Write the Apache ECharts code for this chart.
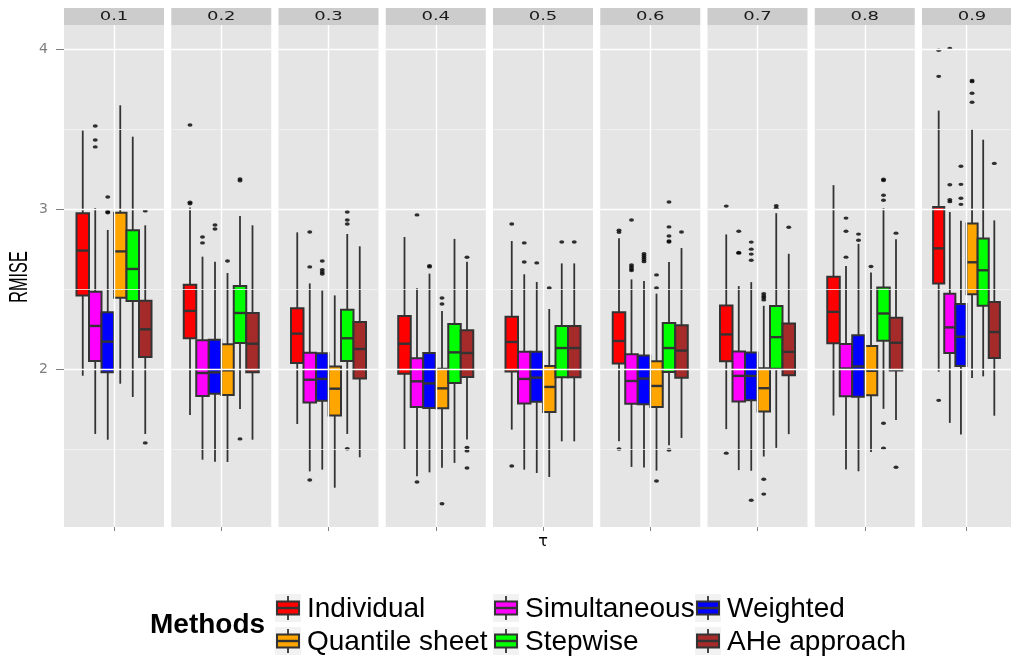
<!DOCTYPE html>
<html>
<head>
<meta charset="utf-8">
<script src="https://cdn.jsdelivr.net/npm/echarts@6/dist/echarts.min.js"></script>
<style>
  html, body { margin: 0; padding: 0; background: #ffffff; }
  #chart { width: 1011px; height: 658px; }
</style>
</head>
<body>
<div id="chart"></div>
<script>
// Facets (quantile level tau) and methods
const taus = ['0.1', '0.2', '0.3', '0.4', '0.5', '0.6', '0.7', '0.8', '0.9'];
const methods = ['Individual', 'Simultaneous', 'Weighted', 'Quantile sheet', 'Stepwise', 'AHe approach'];
const methodColors = ['#FF0000', '#FF00FF', '#0000FF', '#FFA500', '#00FF00', '#A52A2A'];
const yTickValues = [2, 3, 4];

// Five-number summaries per tau: [lower whisker, Q1, median, Q3, upper whisker]
const individual = [
  [1.958, 2.460, 2.740, 2.973, 3.490],
  [1.713, 2.192, 2.363, 2.527, 3.010],
  [1.656, 2.038, 2.221, 2.379, 2.854],
  [1.500, 1.971, 2.158, 2.331, 2.825],
  [1.621, 1.985, 2.169, 2.327, 2.800],
  [1.548, 2.035, 2.175, 2.354, 2.817],
  [1.624, 2.049, 2.216, 2.397, 2.841],
  [1.709, 2.161, 2.357, 2.576, 3.149],
  [1.983, 2.535, 2.754, 3.013, 3.615]
];
const simultaneous = [
  [1.594, 2.050, 2.269, 2.483, 3.006],
  [1.433, 1.831, 1.975, 2.179, 2.702],
  [1.360, 1.790, 1.933, 2.102, 2.535],
  [1.329, 1.763, 1.923, 2.067, 2.504],
  [1.371, 1.785, 1.938, 2.108, 2.592],
  [1.388, 1.783, 1.925, 2.092, 2.560],
  [1.368, 1.797, 1.957, 2.109, 2.518],
  [1.372, 1.830, 2.003, 2.157, 2.643],
  [1.663, 2.100, 2.260, 2.471, 2.981]
];
const weighted = [
  [1.558, 1.979, 2.171, 2.354, 2.869],
  [1.421, 1.846, 1.979, 2.183, 2.671],
  [1.371, 1.802, 1.938, 2.098, 2.490],
  [1.354, 1.756, 1.910, 2.100, 2.596],
  [1.350, 1.796, 1.946, 2.108, 2.544],
  [1.385, 1.779, 1.940, 2.085, 2.550],
  [1.364, 1.805, 1.957, 2.103, 2.543],
  [1.361, 1.826, 2.016, 2.211, 2.782],
  [1.590, 2.019, 2.202, 2.406, 2.927]
];
const quantileSheet = [
  [1.908, 2.446, 2.735, 2.977, 3.648],
  [1.419, 1.838, 1.992, 2.154, 2.600],
  [1.258, 1.710, 1.877, 2.015, 2.460],
  [1.383, 1.754, 1.879, 2.002, 2.363],
  [1.325, 1.731, 1.888, 2.019, 2.375],
  [1.365, 1.763, 1.894, 2.048, 2.471],
  [1.453, 1.734, 1.880, 2.005, 2.395],
  [1.482, 1.836, 1.989, 2.143, 2.603],
  [1.944, 2.467, 2.667, 2.910, 3.500]
];
const stepwise = [
  [1.825, 2.425, 2.625, 2.867, 3.452],
  [1.750, 2.163, 2.350, 2.519, 2.956],
  [1.594, 2.050, 2.192, 2.371, 2.844],
  [1.413, 1.913, 2.104, 2.281, 2.813],
  [1.548, 1.948, 2.131, 2.269, 2.660],
  [1.523, 1.981, 2.131, 2.288, 2.669],
  [1.507, 2.001, 2.199, 2.393, 2.974],
  [1.751, 2.176, 2.347, 2.509, 3.005],
  [1.954, 2.396, 2.617, 2.815, 3.433]
];
const aheApproach = [
  [1.594, 2.075, 2.248, 2.427, 2.898],
  [1.558, 1.979, 2.158, 2.350, 2.898],
  [1.448, 1.940, 2.125, 2.294, 2.767],
  [1.560, 1.950, 2.100, 2.242, 2.671],
  [1.548, 1.948, 2.131, 2.269, 2.660],
  [1.569, 1.946, 2.115, 2.273, 2.756],
  [1.593, 1.961, 2.107, 2.284, 2.720],
  [1.682, 1.991, 2.164, 2.321, 2.811],
  [1.708, 2.069, 2.231, 2.419, 2.929]
];

// Outlying RMISE values: [tau index, value]
const individualOut = [[1, 3.525], [1, 3.042], [1, 3.033], [4, 2.906], [4, 1.394], [5, 2.867], [5, 2.854], [5, 1.500],
  [6, 3.018], [6, 1.474], [8, 3.992], [8, 3.829], [8, 1.804]];
const simultaneousOut = [[0, 3.519], [0, 3.431], [0, 3.388], [1, 2.825], [1, 2.788], [2, 2.856], [2, 2.638], [2, 1.306],
  [3, 2.963], [3, 1.294], [4, 2.788], [4, 2.669], [5, 2.931], [5, 2.650], [5, 2.638], [5, 2.625], [5, 2.615],
  [6, 2.861], [6, 2.728], [6, 2.724], [7, 2.943], [7, 2.861], [7, 2.699], [8, 4.004], [8, 3.152], [8, 3.058], [8, 3.046]];
const weightedOut = [[0, 3.075], [0, 2.983], [0, 2.977], [1, 2.900], [1, 2.875], [2, 2.675], [2, 2.621], [2, 2.606], [2, 2.594],
  [3, 2.646], [3, 2.638], [4, 2.663], [5, 2.720], [5, 2.708], [5, 2.696], [5, 2.683], [5, 2.671],
  [6, 2.793], [6, 2.749], [6, 2.718], [6, 2.680], [6, 1.180], [7, 2.843], [7, 2.805], [8, 3.267], [8, 3.154], [8, 3.067], [8, 3.029]];
const quantileSheetOut = [[1, 2.675], [3, 2.444], [3, 2.406], [3, 1.158], [4, 2.506], [5, 2.588], [5, 2.506], [5, 1.300],
  [6, 2.470], [6, 2.457], [6, 2.445], [6, 2.432], [6, 1.311], [6, 1.218], [7, 2.641], [8, 3.804], [8, 3.796], [8, 3.723], [8, 3.667]];
const stepwiseOut = [[1, 3.188], [1, 3.177], [1, 1.563], [2, 2.981], [2, 2.931], [2, 2.906], [2, 1.502], [4, 2.794],
  [5, 3.044], [5, 2.888], [5, 2.831], [5, 2.800], [5, 2.794], [5, 1.494], [6, 3.020], [6, 3.005],
  [7, 3.186], [7, 3.178], [7, 3.086], [7, 3.055], [7, 1.661], [7, 1.505]];
const aheApproachOut = [[0, 2.988], [0, 1.538], [3, 2.698], [3, 1.510], [3, 1.488], [3, 1.381], [4, 2.794], [5, 2.856],
  [6, 2.886], [7, 2.849], [7, 1.386], [8, 3.285]];

const summaries = [individual, simultaneous, weighted, quantileSheet, stepwise, aheApproach];
const outliers = [individualOut, simultaneousOut, weightedOut, quantileSheetOut, stepwiseOut, aheApproachOut];

// ---- layout of the facet panels ----
const panelLeft = 64, panelStep = 107.25, panelWidth = 100;
const panelTop = 25, panelHeight = 502, stripHeight = 17;
const yMin = 1.0125, yMax = 4.15;
const dodge = 0.25;               // width of one dodged box in x-axis units (panel spans 0..2)
const outline = '#333333';
const tickGrey = '#7F7F7F';
const textFont = '"Liberation Sans", Arial, sans-serif';

function boxCenter(m) { return 1 + (m - 2.5) * dodge; }

function renderBox(params, api) {
  const m = api.value(0);
  const xc = boxCenter(m);
  const half = api.size([dodge, 0])[0] / 2;
  const low = api.coord([xc, api.value(1)]);
  const q1 = api.coord([xc, api.value(2)]);
  const med = api.coord([xc, api.value(3)]);
  const q3 = api.coord([xc, api.value(4)]);
  const high = api.coord([xc, api.value(5)]);
  const cx = low[0];
  const wStyle = { stroke: outline, lineWidth: 1.8 };
  return {
    type: 'group',
    children: [
      { type: 'line', shape: { x1: cx, y1: high[1], x2: cx, y2: q3[1] }, style: wStyle },
      { type: 'line', shape: { x1: cx, y1: q1[1], x2: cx, y2: low[1] }, style: wStyle },
      { type: 'rect', shape: { x: cx - half, y: q3[1], width: half * 2, height: q1[1] - q3[1] },
        style: { fill: methodColors[m], stroke: outline, lineWidth: 2 } },
      { type: 'line', shape: { x1: cx - half, y1: med[1], x2: cx + half, y2: med[1] },
        style: { stroke: outline, lineWidth: 2.4 } }
    ]
  };
}

const grids = [], xAxes = [], yAxes = [], series = [], graphics = [];

taus.forEach((tau, p) => {
  const left = panelLeft + p * panelStep;
  grids.push({ left: left, top: panelTop, width: panelWidth, height: panelHeight,
    show: true, backgroundColor: '#E5E5E5', borderWidth: 0, containLabel: false });

  xAxes.push({
    type: 'value', gridIndex: p, min: 0, max: 2,
    axisLine: { show: false },
    axisLabel: { show: false },
    splitLine: { show: false },
    axisTick: { show: true, customValues: [1], length: 4, lineStyle: { color: tickGrey, width: 1 } },
    name: p === 4 ? 'τ' : '',
    nameLocation: 'middle', nameGap: 7,
    nameTextStyle: { fontFamily: 'DejaVu Sans', fontSize: 16, color: '#000' }
  });

  yAxes.push({
    type: 'value', gridIndex: p, min: yMin, max: yMax,
    axisLine: { show: false },
    splitLine: { show: false },
    axisTick: { show: p === 0, customValues: yTickValues, length: 8, lineStyle: { color: tickGrey, width: 1 } },
    axisLabel: { show: p === 0, customValues: yTickValues, margin: 16, color: tickGrey,
      fontFamily: 'DejaVu Sans', fontSize: 14 }
  });

  // panel grid lines
  series.push({
    type: 'line', xAxisIndex: p, yAxisIndex: p, data: [], z: 1, silent: true,
    markLine: {
      silent: true, symbol: 'none', animation: false, label: { show: false },
      data: [
        { yAxis: 1.5, lineStyle: { color: '#F2F2F2', width: 0.8, type: 'solid' } },
        { yAxis: 2.5, lineStyle: { color: '#F2F2F2', width: 0.8, type: 'solid' } },
        { yAxis: 3.5, lineStyle: { color: '#F2F2F2', width: 0.8, type: 'solid' } },
        { yAxis: 2, lineStyle: { color: '#FFFFFF', width: 1.4, type: 'solid' } },
        { yAxis: 3, lineStyle: { color: '#FFFFFF', width: 1.4, type: 'solid' } },
        { yAxis: 4, lineStyle: { color: '#FFFFFF', width: 1.4, type: 'solid' } },
        { xAxis: 1, lineStyle: { color: '#FFFFFF', width: 1.4, type: 'solid' } }
      ]
    }
  });

  // boxes
  series.push({
    type: 'custom', xAxisIndex: p, yAxisIndex: p, z: 3, silent: true,
    renderItem: renderBox,
    encode: { x: 0, y: [1, 2, 3, 4, 5] },
    data: summaries.map((s, m) => [m].concat(s[p]))
  });

  // outliers
  const pts = [];
  outliers.forEach((list, m) => {
    list.forEach(o => { if (o[0] === p) pts.push([boxCenter(m), o[1]]); });
  });
  series.push({
    type: 'scatter', xAxisIndex: p, yAxisIndex: p, z: 4, silent: true,
    symbol: 'circle', symbolSize: [5, 3.4],
    itemStyle: { color: '#000000' },
    data: pts
  });

  // facet strip
  graphics.push({ type: 'rect', left: left, top: panelTop - stripHeight, silent: true,
    shape: { width: panelWidth, height: stripHeight }, style: { fill: '#CCCCCC' } });
  graphics.push({ type: 'text', x: left + panelWidth / 2, y: panelTop - stripHeight / 2, scaleX: 1.5, silent: true,
    style: { text: tau, fill: '#1A1A1A', font: '12px "DejaVu Sans"', textAlign: 'center', textVerticalAlign: 'middle' } });
});

// y axis title
graphics.push({ type: 'text', x: 20, y: 277, rotation: Math.PI / 2, scaleX: 0.65, silent: true,
  style: { text: 'RMISE', fill: '#000', font: '25px "Liberation Sans Narrow", "Liberation Sans", sans-serif',
    textAlign: 'center', textVerticalAlign: 'middle' } });

// legend
const legendKeyX = [275, 493, 695];
const legendRowY = [608, 641];
const keyW = 26, keyH = 28;
graphics.push({ type: 'text', x: 150, y: 625, silent: true,
  style: { text: 'Methods', fill: '#000', font: 'bold 28px ' + textFont, textAlign: 'left', textVerticalAlign: 'middle' } });
methods.forEach((name, m) => {
  const kx = legendKeyX[m % 3];
  const cy = legendRowY[Math.floor(m / 3)];
  const cx = kx + keyW / 2;
  graphics.push({ type: 'rect', x: kx, y: cy - keyH / 2, silent: true,
    shape: { width: keyW, height: keyH }, style: { fill: '#F2F2F2' } });
  graphics.push({ type: 'line', silent: true,
    shape: { x1: cx, y1: cy - keyH / 2 + 2, x2: cx, y2: cy + keyH / 2 - 2 }, style: { stroke: outline, lineWidth: 1.8 } });
  graphics.push({ type: 'rect', x: kx + 2, y: cy - 6.5, silent: true,
    shape: { width: keyW - 4, height: 13 }, style: { fill: methodColors[m], stroke: outline, lineWidth: 2 } });
  graphics.push({ type: 'line', silent: true,
    shape: { x1: kx + 2, y1: cy, x2: kx + keyW - 2, y2: cy }, style: { stroke: outline, lineWidth: 2.4 } });
  graphics.push({ type: 'text', x: kx + keyW + 6, y: cy + 1, silent: true,
    style: { text: name, fill: '#000', font: '28px ' + textFont, textAlign: 'left', textVerticalAlign: 'middle' } });
});

const chart = echarts.init(document.getElementById('chart'), null, { renderer: 'canvas' });
chart.setOption({
  animation: false,
  backgroundColor: '#FFFFFF',
  grid: grids,
  xAxis: xAxes,
  yAxis: yAxes,
  series: series,
  graphic: graphics
});
</script>
</body>
</html>
